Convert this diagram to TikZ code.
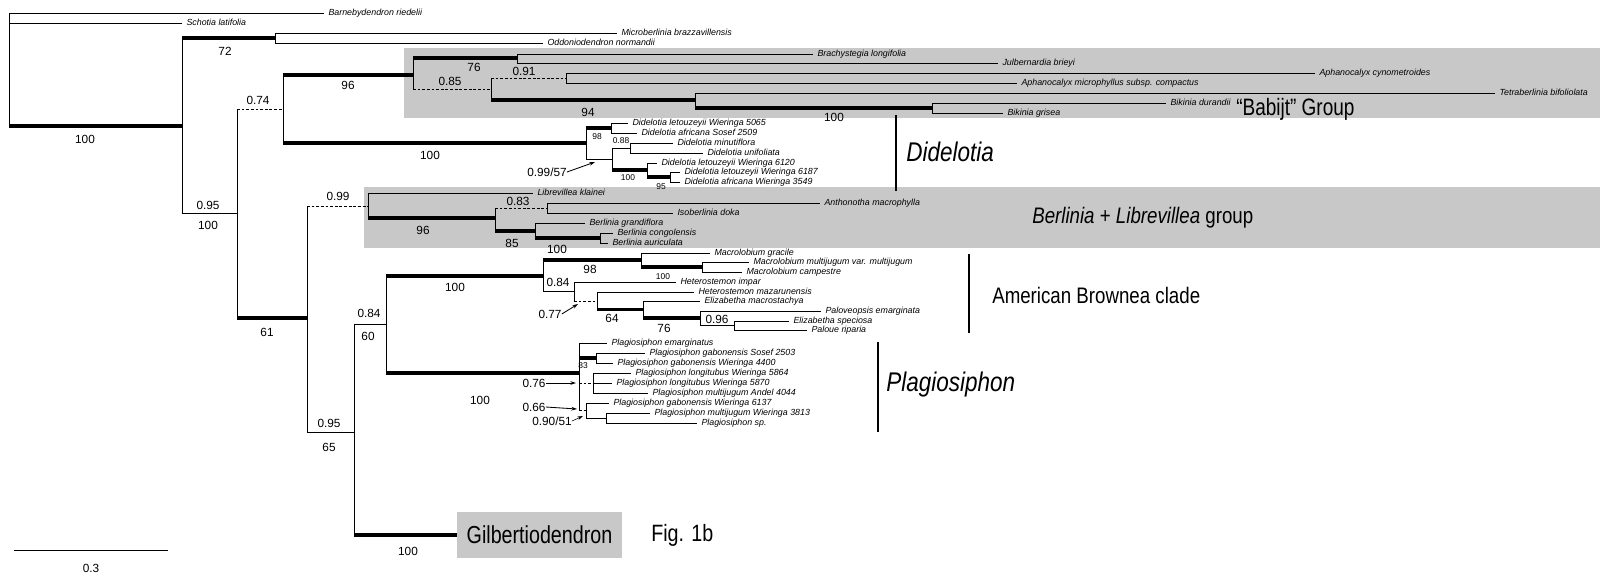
\documentclass[tikz,border=0pt]{standalone}
\usepackage{fontspec}
\setmainfont{Liberation Sans}
\usepackage{tikz}
\usetikzlibrary{arrows.meta}
\definecolor{boxgrey}{RGB}{200,200,200}

\begin{document}
\begin{tikzpicture}[x=0.025cm,y=-0.025cm,
  br/.style={line width=0.7pt},
  strong/.style={line width=2.4pt},
  weak/.style={line width=0.7pt,dash pattern=on 2pt off 1.3pt},
  taxon/.style={anchor=west,inner sep=3pt,text height=4.6pt,text depth=1.3pt,font=\fontsize{6.3}{7}\selectfont\itshape},
  supp/.style={inner sep=0pt,font=\fontsize{8.4}{9}\selectfont},
  suppsmall/.style={inner sep=0pt,font=\fontsize{6}{7}\selectfont},
  clade/.style={anchor=west,inner sep=0pt,font=\fontsize{13.3}{15}\selectfont},
  bigclade/.style={anchor=west,inner sep=0pt,font=\fontsize{16}{18}\selectfont\itshape},
  bar/.style={line width=1.4pt},
  arr/.style={-{Stealth[length=4pt,width=2.6pt]},line width=0.6pt}]
\fill[white] (0,0) rectangle (1600,581);
\path[use as bounding box] (0,0) rectangle (1600,581);
\fill[boxgrey] (404,48) rectangle (1600,118);
\fill[boxgrey] (364,187) rectangle (1600,248);

\coordinate (n0) at (9,70);
\coordinate (n1) at (182,126);
\coordinate (n2) at (275,38);
\coordinate (n3) at (237,213);
\coordinate (n4) at (283,109);
\coordinate (n5) at (413,75);
\coordinate (n6) at (517,58);
\coordinate (n7) at (491,89);
\coordinate (n8) at (566,78);
\coordinate (n9) at (695,100);
\coordinate (n10) at (932,108);
\coordinate (n12) at (586,143);
\coordinate (n13) at (611,128);
\coordinate (n14) at (612,159);
\coordinate (n15) at (630,148);
\coordinate (n16) at (647,170);
\coordinate (n17) at (670,177);
\coordinate (n20) at (307,318);
\coordinate (n21) at (368,206);
\coordinate (n22) at (495,218);
\coordinate (n23) at (547,208);
\coordinate (n24) at (535,231);
\coordinate (n25) at (600,238);
\coordinate (n30) at (354,432);
\coordinate (n31) at (386,324);
\coordinate (n32) at (543,276);
\coordinate (n33) at (641,260);
\coordinate (n34) at (702,267);
\coordinate (n35) at (574,291.5);
\coordinate (n36) at (597,301);
\coordinate (n37) at (643,309.5);
\coordinate (n38) at (700,318);
\coordinate (n39) at (734,325.5);
\coordinate (n40) at (579,373);
\coordinate (n41) at (596,358);
\coordinate (n42) at (593,383);
\coordinate (n43) at (586,410.5);
\coordinate (n44) at (606,418);

\node (t1) at (324,13) [taxon] {Barnebydendron riedelii};
\node (t2) at (182,23) [taxon] {Schotia latifolia};
\node (t3) at (617,33) [taxon] {Microberlinia brazzavillensis};
\node (t4) at (543,43) [taxon] {Oddoniodendron normandii};
\node (t5) at (813,54) [taxon] {Brachystegia longifolia};
\node (t6) at (998,63) [taxon] {Julbernardia brieyi};
\node (t7) at (1315,73) [taxon] {Aphanocalyx cynometroides};
\node (t8) at (1017,83) [taxon] {Aphanocalyx microphyllus subsp. compactus};
\node (t9) at (1495,93) [taxon] {Tetraberlinia bifoliolata};
\node (t10) at (1166,103) [taxon] {Bikinia durandii};
\node (t11) at (1003,113) [taxon] {Bikinia grisea};
\node (t12) at (628,123) [taxon] {Didelotia letouzeyii Wieringa 5065};
\node (t13) at (637,133) [taxon] {Didelotia africana Sosef 2509};
\node (t14) at (673,143) [taxon] {Didelotia minutiflora};
\node (t15) at (703,153) [taxon] {Didelotia unifoliata};
\node (t16) at (657,163) [taxon] {Didelotia letouzeyii Wieringa 6120};
\node (t17) at (680,172) [taxon] {Didelotia letouzeyii Wieringa 6187};
\node (t18) at (680,182) [taxon] {Didelotia africana Wieringa 3549};
\node (t19) at (533,193) [taxon] {Librevillea klainei};
\node (t20) at (820,203) [taxon] {Anthonotha macrophylla};
\node (t21) at (673,213) [taxon] {Isoberlinia doka};
\node (t22) at (585,223) [taxon] {Berlinia grandiflora};
\node (t23) at (613,233) [taxon] {Berlinia congolensis};
\node (t24) at (608,243) [taxon] {Berlinia auriculata};
\node (t25) at (710,253) [taxon] {Macrolobium gracile};
\node (t26) at (749,262) [taxon] {Macrolobium multijugum var. multijugum};
\node (t27) at (742,272) [taxon] {Macrolobium campestre};
\node (t28) at (676,282) [taxon] {Heterostemon impar};
\node (t29) at (694,292) [taxon] {Heterostemon mazarunensis};
\node (t30) at (700,301) [taxon] {Elizabetha macrostachya};
\node (t31) at (821,311) [taxon] {Paloveopsis emarginata};
\node (t32) at (789,321) [taxon] {Elizabetha speciosa};
\node (t33) at (807,330) [taxon] {Paloue riparia};
\node (t34) at (607,343) [taxon] {Plagiosiphon emarginatus};
\node (t35) at (645,353) [taxon] {Plagiosiphon gabonensis Sosef 2503};
\node (t36) at (613,363) [taxon] {Plagiosiphon gabonensis Wieringa 4400};
\node (t37) at (631,373) [taxon] {Plagiosiphon longitubus Wieringa 5864};
\node (t38) at (612,383) [taxon] {Plagiosiphon longitubus Wieringa 5870};
\node (t39) at (648,393) [taxon] {Plagiosiphon multijugum Andel 4044};
\node (t40) at (609,403) [taxon] {Plagiosiphon gabonensis Wieringa 6137};
\node (t41) at (650,413) [taxon] {Plagiosiphon multijugum Wieringa 3813};
\node (t42) at (697,423) [taxon] {Plagiosiphon sp.};
\node (t43) at (539.5,535) [fill=boxgrey,inner sep=0pt,minimum width=4.125cm,minimum height=1.15cm,font=\fontsize{14}{16}\selectfont] {\scalebox{1}[1.25]{Gilbertiodendron}};

\draw[br] (n0 |- t1.west) -- (n0 |- n1);
\draw[br] (n0 |- t1.west) -- (t1.west);
\draw[br] (n0 |- t2.west) -- (t2.west);
\draw[strong] (n0 |- n1) -- (n1);
\draw[br] (n1 |- n2) -- (n1 |- n3);
\draw[strong] (n1 |- n2) -- (n2);
\draw[br] (n1 |- n3) -- (n3);
\draw[br] (n2 |- t3.west) -- (n2 |- t4.west);
\draw[br] (n2 |- t3.west) -- (t3.west);
\draw[br] (n2 |- t4.west) -- (t4.west);
\draw[br] (n3 |- n4) -- (n3 |- n20);
\draw[weak] (n3 |- n4) -- (n4);
\draw[strong] (n3 |- n20) -- (n20);
\draw[br] (n4 |- n5) -- (n4 |- n12);
\draw[strong] (n4 |- n5) -- (n5);
\draw[strong] (n4 |- n12) -- (n12);
\draw[br] (n5 |- n6) -- (n5 |- n7);
\draw[strong] (n5 |- n6) -- (n6);
\draw[weak] (n5 |- n7) -- (n7);
\draw[br] (n6 |- t5.west) -- (n6 |- t6.west);
\draw[br] (n6 |- t5.west) -- (t5.west);
\draw[br] (n6 |- t6.west) -- (t6.west);
\draw[br] (n7 |- n8) -- (n7 |- n9);
\draw[weak] (n7 |- n8) -- (n8);
\draw[strong] (n7 |- n9) -- (n9);
\draw[br] (n8 |- t7.west) -- (n8 |- t8.west);
\draw[br] (n8 |- t7.west) -- (t7.west);
\draw[br] (n8 |- t8.west) -- (t8.west);
\draw[br] (n9 |- t9.west) -- (n9 |- n10);
\draw[br] (n9 |- t9.west) -- (t9.west);
\draw[strong] (n9 |- n10) -- (n10);
\draw[br] (n10 |- t10.west) -- (n10 |- t11.west);
\draw[br] (n10 |- t10.west) -- (t10.west);
\draw[br] (n10 |- t11.west) -- (t11.west);
\draw[br] (n12 |- n13) -- (n12 |- n14);
\draw[strong] (n12 |- n13) -- (n13);
\draw[br] (n12 |- n14) -- (n14);
\draw[br] (n13 |- t12.west) -- (n13 |- t13.west);
\draw[br] (n13 |- t12.west) -- (t12.west);
\draw[br] (n13 |- t13.west) -- (t13.west);
\draw[br] (n14 |- n15) -- (n14 |- n16);
\draw[br] (n14 |- n15) -- (n15);
\draw[strong] (n14 |- n16) -- (n16);
\draw[br] (n15 |- t14.west) -- (n15 |- t15.west);
\draw[br] (n15 |- t14.west) -- (t14.west);
\draw[br] (n15 |- t15.west) -- (t15.west);
\draw[br] (n16 |- t16.west) -- (n16 |- n17);
\draw[br] (n16 |- t16.west) -- (t16.west);
\draw[strong] (n16 |- n17) -- (n17);
\draw[br] (n17 |- t17.west) -- (n17 |- t18.west);
\draw[br] (n17 |- t17.west) -- (t17.west);
\draw[br] (n17 |- t18.west) -- (t18.west);
\draw[br] (n20 |- n21) -- (n20 |- n30);
\draw[weak] (n20 |- n21) -- (n21);
\draw[br] (n20 |- n30) -- (n30);
\draw[br] (n21 |- t19.west) -- (n21 |- n22);
\draw[br] (n21 |- t19.west) -- (t19.west);
\draw[strong] (n21 |- n22) -- (n22);
\draw[br] (n22 |- n23) -- (n22 |- n24);
\draw[weak] (n22 |- n23) -- (n23);
\draw[strong] (n22 |- n24) -- (n24);
\draw[br] (n23 |- t20.west) -- (n23 |- t21.west);
\draw[br] (n23 |- t20.west) -- (t20.west);
\draw[br] (n23 |- t21.west) -- (t21.west);
\draw[br] (n24 |- t22.west) -- (n24 |- n25);
\draw[br] (n24 |- t22.west) -- (t22.west);
\draw[strong] (n24 |- n25) -- (n25);
\draw[br] (n25 |- t23.west) -- (n25 |- t24.west);
\draw[br] (n25 |- t23.west) -- (t23.west);
\draw[br] (n25 |- t24.west) -- (t24.west);
\draw[br] (n30 |- n31) -- (n30 |- t43.west);
\draw[br] (n30 |- n31) -- (n31);
\draw[strong] (n30 |- t43.west) -- (t43.west);
\draw[br] (n31 |- n32) -- (n31 |- n40);
\draw[strong] (n31 |- n32) -- (n32);
\draw[strong] (n31 |- n40) -- (n40);
\draw[br] (n32 |- n33) -- (n32 |- n35);
\draw[strong] (n32 |- n33) -- (n33);
\draw[br] (n32 |- n35) -- (n35);
\draw[br] (n33 |- t25.west) -- (n33 |- n34);
\draw[br] (n33 |- t25.west) -- (t25.west);
\draw[strong] (n33 |- n34) -- (n34);
\draw[br] (n34 |- t26.west) -- (n34 |- t27.west);
\draw[br] (n34 |- t26.west) -- (t26.west);
\draw[br] (n34 |- t27.west) -- (t27.west);
\draw[br] (n35 |- t28.west) -- (n35 |- n36);
\draw[br] (n35 |- t28.west) -- (t28.west);
\draw[weak] (n35 |- n36) -- (n36);
\draw[br] (n36 |- t29.west) -- (n36 |- n37);
\draw[br] (n36 |- t29.west) -- (t29.west);
\draw[strong] (n36 |- n37) -- (n37);
\draw[br] (n37 |- t30.west) -- (n37 |- n38);
\draw[br] (n37 |- t30.west) -- (t30.west);
\draw[strong] (n37 |- n38) -- (n38);
\draw[br] (n38 |- t31.west) -- (n38 |- n39);
\draw[br] (n38 |- t31.west) -- (t31.west);
\draw[br] (n38 |- n39) -- (n39);
\draw[br] (n39 |- t32.west) -- (n39 |- t33.west);
\draw[br] (n39 |- t32.west) -- (t32.west);
\draw[br] (n39 |- t33.west) -- (t33.west);
\draw[br] (n40 |- t34.west) -- (n40 |- n43);
\draw[br] (n40 |- t34.west) -- (t34.west);
\draw[strong] (n40 |- n41) -- (n41);
\draw[weak] (n40 |- n42) -- (n42);
\draw[weak] (n40 |- n43) -- (n43);
\draw[br] (n41 |- t35.west) -- (n41 |- t36.west);
\draw[br] (n41 |- t35.west) -- (t35.west);
\draw[br] (n41 |- t36.west) -- (t36.west);
\draw[br] (n42 |- t37.west) -- (n42 |- t39.west);
\draw[br] (n42 |- t37.west) -- (t37.west);
\draw[br] (n42 |- t38.west) -- (t38.west);
\draw[br] (n42 |- t39.west) -- (t39.west);
\draw[br] (n43 |- t40.west) -- (n43 |- n44);
\draw[br] (n43 |- t40.west) -- (t40.west);
\draw[br] (n43 |- n44) -- (n44);
\draw[br] (n44 |- t41.west) -- (n44 |- t42.west);
\draw[br] (n44 |- t41.west) -- (t41.west);
\draw[br] (n44 |- t42.west) -- (t42.west);

\node (s1) at (85,139) [supp] {100};
\node (s2) at (225,51) [supp] {72};
\node (s3) at (208,205) [supp] {0.95};
\node (s4) at (208,225) [supp] {100};
\node (s5) at (258,100) [supp] {0.74};
\node (s6) at (348,85) [supp] {96};
\node (s7) at (430,155) [supp] {100};
\node (s8) at (474,67) [supp] {76};
\node (s9) at (450,81) [supp] {0.85};
\node (s10) at (524,71) [supp] {0.91};
\node (s11) at (588,112) [supp] {94};
\node (s12) at (834,117) [supp] {100};
\node (s13) at (597,137) [suppsmall] {98};
\node (s14) at (621,141) [suppsmall] {0.88};
\node (s15) at (628,178) [suppsmall] {100};
\node (s16) at (661,187) [suppsmall] {95};
\node (s17) at (338,196) [supp] {0.99};
\node (s18) at (423,230) [supp] {96};
\node (s19) at (518,201) [supp] {0.83};
\node (s20) at (512,243) [supp] {85};
\node (s21) at (557,249) [supp] {100};
\node (s22) at (267,332) [supp] {61};
\node (s23) at (369,313) [supp] {0.84};
\node (s24) at (368,336) [supp] {60};
\node (s25) at (329,423) [supp] {0.95};
\node (s26) at (329,447) [supp] {65};
\node (s27) at (455,287) [supp] {100};
\node (s28) at (590,269) [supp] {98};
\node (s29) at (663,277) [suppsmall] {100};
\node (s30) at (558,282) [supp] {0.84};
\node (s31) at (612,318) [supp] {64};
\node (s32) at (664,328) [supp] {76};
\node (s33) at (717,319) [supp] {0.96};
\node (s34) at (480,400) [supp] {100};
\node (s35) at (583,366) [suppsmall] {83};
\node (s36) at (408,551) [supp] {100};

\node (s40) at (547,172) [supp] {0.99/57};
\coordinate (a40) at (595,162);
\draw[arr] (s40.east) -- (a40);
\node (s41) at (550,314) [supp] {0.77};
\coordinate (a41) at (578,304);
\draw[arr] (s41.east) -- (a41);
\node (s42) at (534,383) [supp] {0.76};
\coordinate (a42) at (576,383);
\draw[arr] (s42.east) -- (a42);
\node (s43) at (534,407) [supp] {0.66};
\coordinate (a43) at (577,409);
\draw[arr] (s43.east) -- (a43);
\node (s44) at (552,421) [supp] {0.90/51};
\coordinate (a44) at (583,416);
\draw[arr,line width=0.4pt] (s44.east) -- (a44);

\coordinate (c1) at (14,550);
\coordinate (c2) at (168,550);
\draw[br] (c1) -- (c2);
\node (s50) at (91,568) [supp] {0.3};

\coordinate (b1) at (896,115);
\coordinate (b2) at (896,191);
\draw[bar] (b1) -- (b2);
\coordinate (b3) at (969,254);
\coordinate (b4) at (969,333);
\draw[bar] (b3) -- (b4);
\coordinate (b5) at (878,342);
\coordinate (b6) at (878,432);
\draw[bar] (b5) -- (b6);

\node (g1) at (1236,109) [clade,font=\fontsize{13.5}{15}\selectfont] {\scalebox{1}[1.25]{“Babijt” Group}};
\node (g2) at (906,152) [bigclade] {\scalebox{1}[1.2]{Didelotia}};
\node (g3) at (1032,218) [clade] {\scalebox{1}[1.2]{\textit{Berlinia} + \textit{Librevillea} group}};
\node (g4) at (992,295) [clade] {\scalebox{1}[1.2]{American Brownea clade}};
\node (g5) at (886,385) [bigclade] {\scalebox{1}[1.2]{Plagiosiphon}};
\node (g6) at (651,535) [clade,font=\fontsize{14}{16}\selectfont] {\scalebox{1}[1.2]{Fig. 1b}};
\end{tikzpicture}
\end{document}
